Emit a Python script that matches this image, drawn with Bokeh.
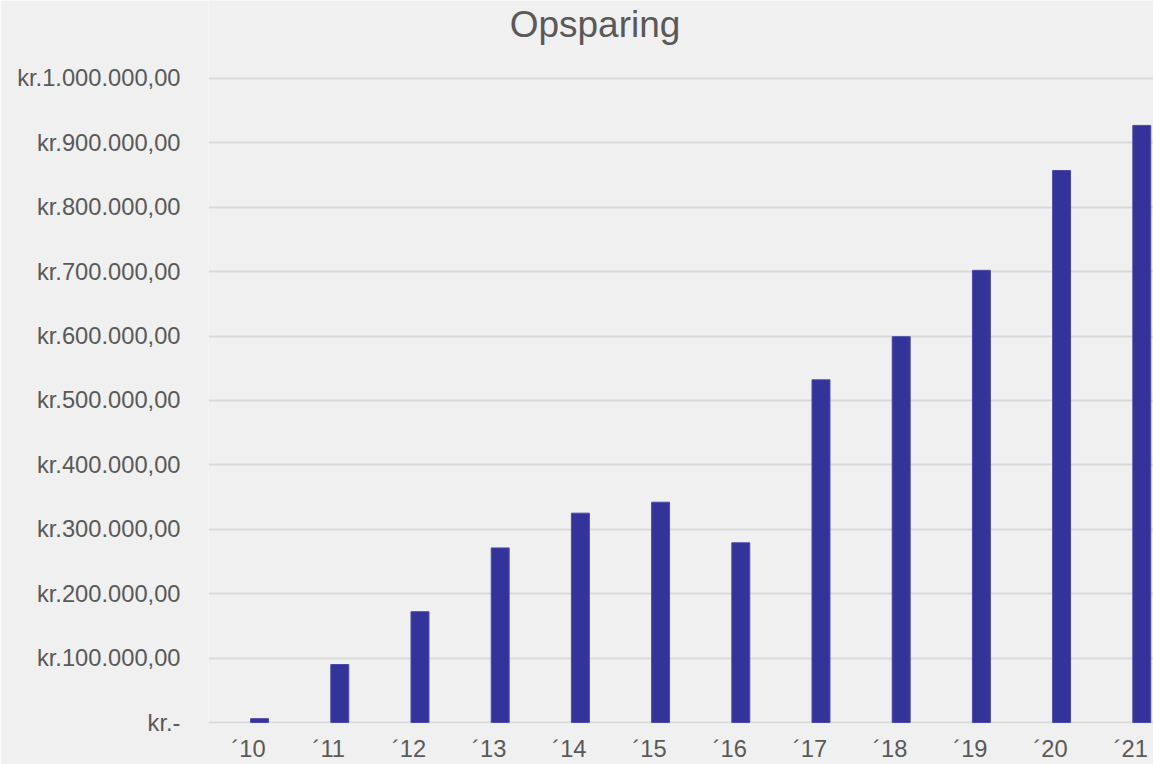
from bokeh.plotting import figure
from bokeh.models import FixedTicker, Range1d, Label
from bokeh.transform import dodge
from bokeh.models import ColumnDataSource
from bokeh.embed import file_html
from bokeh.resources import INLINE

# ---- data ----
title_text = "Opsparing"
years = ["´10", "´11", "´12", "´13", "´14", "´15", "´16", "´17", "´18", "´19", "´20", "´21"]
savings = [6000, 90000, 172000, 271000, 325000, 342000, 279000, 532000, 599000, 702000, 857000, 927000]
y_ticks = [0, 100000, 200000, 300000, 400000, 500000, 600000, 700000, 800000, 900000, 1000000]
y_tick_labels = ["kr.-", "kr.100.000,00", "kr.200.000,00", "kr.300.000,00", "kr.400.000,00",
                 "kr.500.000,00", "kr.600.000,00", "kr.700.000,00", "kr.800.000,00",
                 "kr.900.000,00", "kr.1.000.000,00"]

x_pos = list(range(len(years)))
src = ColumnDataSource(dict(x=x_pos, v=savings))

BG = "#f0f0f0"
TXT = "#595959"
FONT = "Liberation Sans"

# plot frame reaches the top of the canvas so the title sits inside it
units_per_px = 1550.4
y_lo = -1 * units_per_px
y_hi = y_lo + 724 * units_per_px

p = figure(width=1153, height=764, output_backend="svg", toolbar_location=None,
           x_range=Range1d(-0.5, 11.283), y_range=Range1d(y_lo, y_hi),
           min_border_left=208, min_border_right=0, min_border_top=0, min_border_bottom=40,
           background_fill_color=BG, border_fill_color=BG, outline_line_color=None)

# chart title (centred above the plot area)
p.add_layout(Label(x=4.319, y=y_ticks[-1] + 53.5 * units_per_px, text=title_text,
                   text_align="center", text_baseline="alphabetic", text_font=FONT,
                   text_font_size="37px", text_color=TXT))

p.vbar(x=dodge("x", 0.137), top="v", width=0.224, source=src,
       fill_color="#333399", line_color="#4a4aa8", line_width=1)

p.xgrid.grid_line_color = None
p.ygrid.ticker = FixedTicker(ticks=y_ticks)
p.ygrid.grid_line_color = "#d9d9d9"
p.ygrid.grid_line_width = 2

p.yaxis.ticker = FixedTicker(ticks=y_ticks)
p.yaxis.major_label_overrides = dict(zip(y_ticks, y_tick_labels))
p.yaxis.major_label_standoff = 28

p.xaxis.ticker = FixedTicker(ticks=x_pos)
p.xaxis.major_label_overrides = dict(zip(x_pos, years))
p.xaxis.major_label_standoff = 12

for ax in (p.xaxis[0], p.yaxis[0]):
    ax.axis_line_color = None
    ax.major_tick_line_color = None
    ax.minor_tick_line_color = None
    ax.major_tick_out = 0
    ax.major_label_text_font = FONT
    ax.major_label_text_font_size = "23.7px"
    ax.major_label_text_color = TXT

html = file_html(p, INLINE)
html = html.replace("<body>", '<body style="background:#f0f0f0">', 1)
open("out.html", "w").write(html)
